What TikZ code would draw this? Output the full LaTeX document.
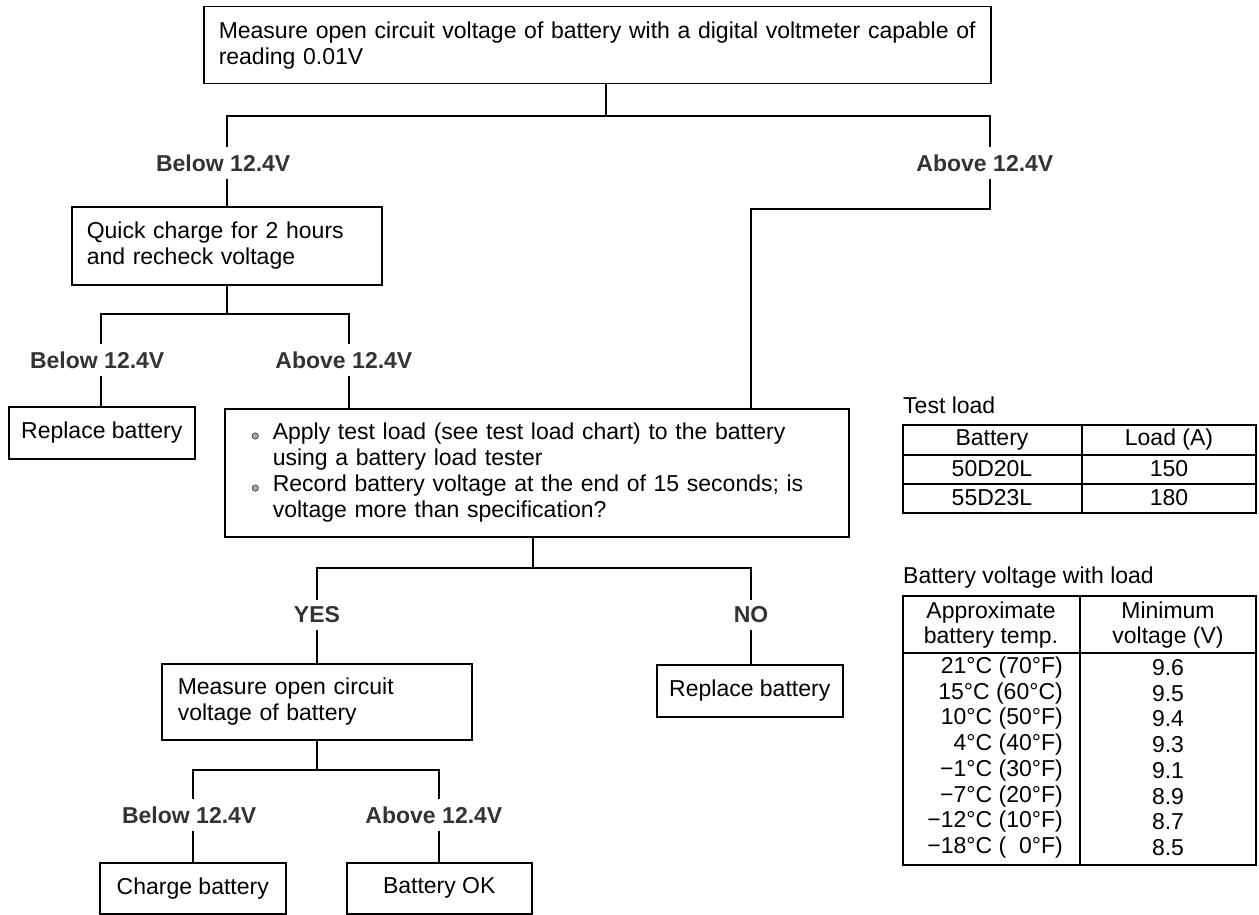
\documentclass[tikz,border=0pt]{standalone}
\usepackage{fontspec}
\usepackage{graphicx}
\setmainfont{Liberation Sans}
\newcommand\splitlbl[2]{\makebox[0pt][r]{#1\hspace{0.14em}}\makebox[0pt][l]{\hspace{0.14em}#2}}
\newcommand\bulmark{\makebox[24pt][l]{\hspace{3pt}\tikz[baseline=-0.3ex]{\filldraw[fill=black!35, draw=black!80, line width=0.6pt] (0pt,0pt) circle[radius=3.2pt];}}}
\begin{document}
\begin{tikzpicture}[x=1pt,y=-1pt,
  every node/.style={font=\fontsize{23}{26}\selectfont, inner sep=0pt},
  box/.style={draw, line width=1.5pt, anchor=north west},
  conn/.style={line width=1.4pt},
  lbl/.style={font=\fontsize{23}{26}\selectfont\bfseries, text=black!80, inner ysep=7pt},
  tline/.style={line width=1.1pt},
  touter/.style={line width=2pt}]
\useasboundingbox (0,0) rectangle (1259,915);

% ---- boxes ----
\node[box, minimum width=787pt, minimum height=77pt, text width=757pt, inner xsep=15pt, align=left] (top) at (203,6)
  {Measure open circuit voltage of battery with a digital voltmeter capable of\\reading 0.01V};
\node[box, minimum width=310pt, minimum height=78pt, text width=280pt, inner xsep=15pt, align=left] (quick) at (71,206)
  {Quick charge for 2 hours\\and recheck voltage};
\node[box, minimum width=186pt, minimum height=52pt, align=center] (rep1) at (8,406) {Replace battery};
\node[box, minimum width=624pt, minimum height=128pt, text width=576pt, inner xsep=24pt, align=left] (bul) at (224,408)
  {\bulmark Apply test load (see test load chart) to the battery\\
   \hspace*{24pt}using a battery load tester\\
   \bulmark Record battery voltage at the end of 15 seconds; is\\
   \hspace*{24pt}voltage more than specification?};
\node[box, minimum width=310pt, minimum height=76pt, text width=278pt, inner xsep=16pt, align=left] (meas) at (161,663)
  {Measure open circuit\\voltage of battery};
\node[box, minimum width=186pt, minimum height=52pt, align=center] (rep2) at (656,664) {Replace battery};
\node[box, minimum width=186pt, minimum height=51pt, align=center] (chg) at (99,862) {Charge battery};
\node[box, minimum width=185pt, minimum height=51pt, align=center] (ok) at (346,862) {Battery OK};

% ---- branch labels ----
\node[lbl] (la) at (227,163) {\splitlbl{Below}{12.4V}};
\node[lbl] (ra) at (990,163) {\splitlbl{Above}{12.4V}};
\node[lbl] (lb) at (101,360) {\splitlbl{Below}{12.4V}};
\node[lbl] (rb) at (349,360) {\splitlbl{Above}{12.4V}};
\node[lbl] (yes) at (317,615) {YES};
\node[lbl] (no) at (751,615) {NO};
\node[lbl] (lc) at (193,815) {\splitlbl{Below}{12.4V}};
\node[lbl] (rc) at (439,815) {\splitlbl{Above}{12.4V}};

% ---- connectors ----
\coordinate (t1) at (606,116);
\draw[conn] (top.south -| t1) -- (t1);
\draw[conn] (la.north) -- (la.north |- t1) -- (ra.north |- t1) -- (ra.north);
\draw[conn] (la.south) -- (la.south |- quick.north);
\coordinate (q1) at (227,314);
\draw[conn] (quick.south -| q1) -- (q1);
\draw[conn] (lb.north) -- (lb.north |- q1) -- (rb.north |- q1) -- (rb.north);
\draw[conn] (lb.south) -- (lb.south |- rep1.north);
\draw[conn] (rb.south) -- (rb.south |- bul.north);
\coordinate (r1) at (751,209);
\draw[conn] (ra.south) -- (ra.south |- r1) -- (r1) -- (r1 |- bul.north);
\coordinate (b1) at (533,568);
\draw[conn] (bul.south -| b1) -- (b1);
\draw[conn] (yes.north) -- (yes.north |- b1) -- (no.north |- b1) -- (no.north);
\draw[conn] (yes.south) -- (yes.south |- meas.north);
\draw[conn] (no.south) -- (no.south |- rep2.north);
\coordinate (m1) at (317,770);
\draw[conn] (meas.south -| m1) -- (m1);
\draw[conn] (lc.north) -- (lc.north |- m1) -- (rc.north |- m1) -- (rc.north);
\draw[conn] (lc.south) -- (lc.south |- chg.north);
\draw[conn] (rc.south) -- (rc.south |- ok.north);

% ---- test load table ----
\node[anchor=west] (tlt) at (903,405) {Test load};
\draw[touter] (903,425) rectangle (1256,513);
\draw[tline] (1082,425) -- (1082,513);
\draw[tline] (903,455) -- (1256,455);
\draw[tline] (903,484) -- (1256,484);
\node (h1) at (992,440) {Battery};
\node (h2) at (1169,440) {Load (A)};
\node (c11) at (992,469) {50D20L};
\node (c12) at (1169,469) {150};
\node (c21) at (992,498) {55D23L};
\node (c22) at (1169,498) {180};

% ---- voltage table ----
\node[anchor=west] (bvt) at (903,578) {Battery voltage with load};
\draw[touter] (903,596) rectangle (1256,865);
\draw[tline] (1080,596) -- (1080,865);
\draw[tline] (903,653) -- (1256,653);
\node[align=center, font=\fontsize{23}{25}\selectfont] (vh1) at (991,625) {Approximate\\battery temp.};
\node[align=center, font=\fontsize{23}{25}\selectfont] (vh2) at (1168,625) {Minimum\\voltage (V)};
\foreach \t/\v/\y [count=\i] in {21°C (70°F)/9.6/668, 15°C (60°C)/9.5/694, 10°C (50°F)/9.4/719, 4°C (40°F)/9.3/745,
  −1°C (30°F)/9.1/771, −7°C (20°F)/8.9/797, −12°C (10°F)/8.7/822, −18°C (\phantom{1}0°F)/8.5/848}{
  \node[anchor=east] (tmp\i) at (1063,\y) {\t};
  \node (val\i) at (1168,\y) {\v};
}
\end{tikzpicture}
\end{document}
